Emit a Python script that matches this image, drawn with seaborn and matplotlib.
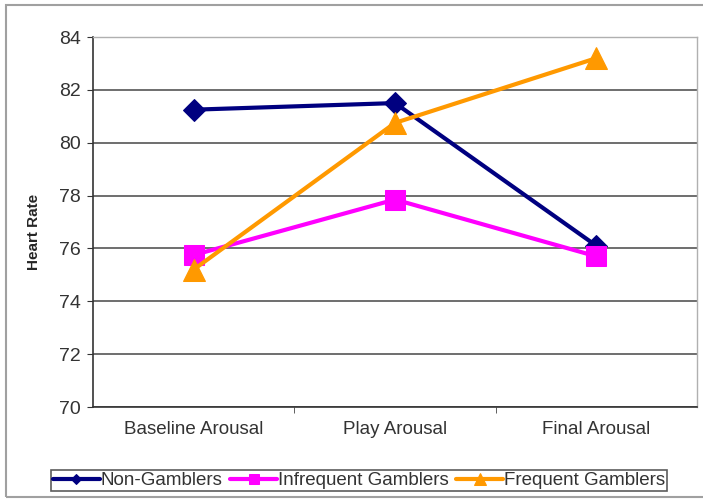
import matplotlib
matplotlib.use("Agg")
import matplotlib.pyplot as plt
import seaborn as sns
import pandas as pd
from matplotlib.patches import Rectangle
from matplotlib.ticker import FixedLocator

categories = ["Baseline Arousal", "Play Arousal", "Final Arousal"]
non_gamblers = [81.25, 81.5, 76.1]
infrequent_gamblers = [75.75, 77.85, 75.7]
frequent_gamblers = [75.2, 80.75, 83.2]
series_names = ["Non-Gamblers", "Infrequent Gamblers", "Frequent Gamblers"]
y_ticks = [70, 72, 74, 76, 78, 80, 82, 84]

colors = ["#000080", "#FF00FF", "#FF9900"]
markers = ["D", "s", "^"]
msizes = [11, 15, 16]

sns.set_style("white")
plt.rcParams["font.family"] = ["Liberation Sans", "DejaVu Sans"]

fig = plt.figure(figsize=(7.03, 4.99), dpi=100)
ax = fig.add_axes([93/703, 1-407/499, (697-93)/703, (407-37)/499])

# figure border
fig.patches.append(Rectangle((6/703, 2/499), 1.0, 1-7/499, transform=fig.transFigure,
                             fill=False, edgecolor="#a0a0a0", linewidth=1.5, zorder=-1))

for name, vals, c, m, ms in zip(series_names,
                                [non_gamblers, infrequent_gamblers, frequent_gamblers],
                                colors, markers, msizes):
    df = pd.DataFrame({"Category": categories, "Heart Rate": vals})
    sns.lineplot(data=df, x="Category", y="Heart Rate", ax=ax, color=c, marker=m,
                 markersize=ms, markeredgecolor=c, linewidth=3, label=name, sort=False, zorder=3)

ax.set_xlim(-0.5, 2.5)
ax.set_ylim(70, 84)
ax.set_yticks(y_ticks)
ax.set_yticklabels([str(t) for t in y_ticks], fontsize=14, color="#333333")
ax.set_xticks(range(len(categories)))
ax.set_xticklabels(categories, fontsize=13.5, color="#333333")
ax.tick_params(axis="x", which="major", length=0, pad=10)
ax.xaxis.set_minor_locator(FixedLocator([0.5, 1.5]))
ax.tick_params(axis="x", which="minor", length=4, direction="out", color="#444444", bottom=True)
ax.tick_params(axis="y", length=4, direction="out", color="#333333", left=True, pad=5)
ax.set_xlabel("")
ax.set_ylabel("Heart Rate", fontsize=11, fontweight="bold")
ax.yaxis.set_label_coords(-0.086, 0.473)

ax.grid(axis="y", color="#555555", linewidth=1.2)
ax.grid(axis="x", visible=False)
ax.set_axisbelow(True)
for s in ["left", "bottom"]:
    ax.spines[s].set_color("#333333")
    ax.spines[s].set_linewidth(1.2)
for s in ["top", "right"]:
    ax.spines[s].set_color("#b0b0b0")
    ax.spines[s].set_linewidth(1.0)

leg = ax.legend(loc="center", bbox_to_anchor=((44+674)/2/703, 1-480.5/499),
                bbox_transform=fig.transFigure, ncol=3, frameon=True, fancybox=False,
                fontsize=13.5, handlelength=2.5, handletextpad=0.05, columnspacing=0.4,
                borderpad=0.1, markerscale=0.5)
leg.get_frame().set_edgecolor("#333333")
leg.get_frame().set_linewidth(1.2)
for t in leg.get_texts():
    t.set_color("#333333")

fig.savefig("out.png", dpi=100)
